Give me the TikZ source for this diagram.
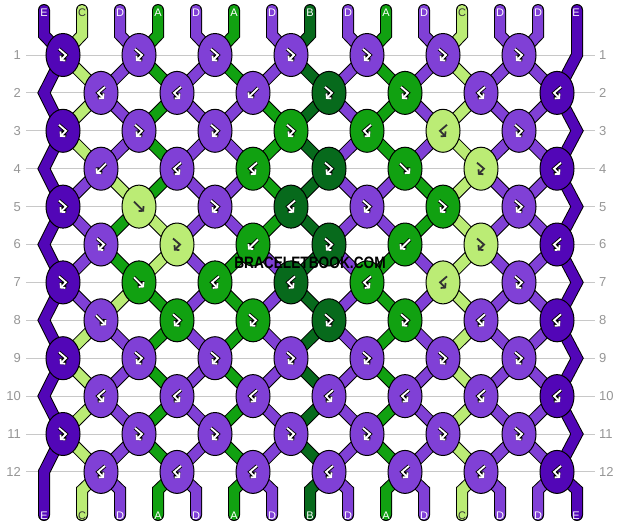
\documentclass[tikz,border=0pt]{standalone}
\usepackage{fontspec}
\usepackage{pdfrender}
\setmainfont{Liberation Sans}
\usetikzlibrary{arrows.meta,shapes.geometric,backgrounds}

\definecolor{strE}{RGB}{82,6,183}
\definecolor{strD}{RGB}{128,64,214}
\definecolor{strC}{RGB}{187,236,117}
\definecolor{strA}{RGB}{17,161,17}
\definecolor{strB}{RGB}{7,106,28}
\definecolor{rimE}{RGB}{0,0,0}
\definecolor{rimD}{RGB}{0,0,0}
\definecolor{rimC}{RGB}{187,236,117}
\definecolor{rimA}{RGB}{0,0,0}
\definecolor{rimB}{RGB}{0,0,0}
\colorlet{inkE}{white}
\colorlet{inkD}{white}
\colorlet{inkC}{black!80}
\colorlet{inkA}{white}
\colorlet{inkB}{white}
\definecolor{rowline}{RGB}{200,200,200}
\definecolor{rowtext}{RGB}{150,150,150}

\tikzset{
  knot/.style={ellipse, draw=black, line width=1pt, fill=#1,
    minimum width=34pt, minimum height=43pt, inner sep=0pt},
  thread/.style={draw=black, line width=1pt, double=#1, double distance=10pt},
  stub/.style={thread=#1, line cap=round},
  rim/.style={line width=3.6pt, line join=miter, -{Straight Barb[length=3pt,width=7pt]}},
  ink/.style={line width=1.8pt, line join=miter, -{Straight Barb[length=3pt,width=7pt]}},
  glyph f/.style={insert path={(-5,-5) -- (5,5)}},
  glyph b/.style={insert path={(5,-5) -- (-5,5)}},
  glyph fb/.style={insert path={(-4,-6) -- (3,0) -- (-3,6)}},
  glyph bf/.style={insert path={(4,-6) -- (-3,0) -- (3,6)}},
  rownum/.style={text=rowtext, font=\fontsize{13}{13}\selectfont, inner sep=0pt},
  letter/.style={font=\fontsize{11}{11}\selectfont, inner sep=0pt}
}

\begin{document}
\begin{tikzpicture}[x=1pt,y=-1pt]
\useasboundingbox (0,0) rectangle (620,528);
\begin{pgfonlayer}{background}
  \fill[white] (0,0) rectangle (620,528);
\end{pgfonlayer}

% knots, row by row
\foreach \r/\row in {
  1/{E/fb,D/fb,D/fb,D/fb,D/fb,D/fb,D/fb},
  2/{D/bf,D/bf,D/b,B/fb,A/fb,D/bf,E/bf},
  3/{E/fb,D/fb,D/fb,A/fb,A/bf,C/bf,D/fb},
  4/{D/b,D/bf,A/bf,B/fb,A/f,C/fb,E/bf},
  5/{E/fb,C/f,D/fb,B/bf,D/fb,A/fb,D/fb},
  6/{D/fb,C/fb,A/b,B/fb,A/b,C/fb,E/bf},
  7/{E/fb,A/f,A/bf,B/bf,A/bf,C/bf,D/fb},
  8/{D/f,A/fb,A/fb,B/fb,A/fb,D/bf,E/bf},
  9/{E/fb,D/fb,D/fb,D/fb,D/fb,D/fb,D/fb},
  10/{D/bf,D/bf,D/bf,D/bf,D/bf,D/bf,E/bf},
  11/{E/fb,D/fb,D/fb,D/fb,D/fb,D/fb,D/fb},
  12/{D/bf,D/bf,D/bf,D/bf,D/bf,D/bf,E/bf}} {
  \pgfmathsetmacro\y{55+37.9*(\r-1)}
  \node[rownum, anchor=east] (num-l-\r) at (21,\y) {\r};
  \node[rownum, anchor=west] (num-r-\r) at (599,\y) {\r};
  \begin{pgfonlayer}{background}
    \draw[rowline, line width=1pt] (26,\y) -- (595,\y);
  \end{pgfonlayer}
  \foreach \c/\t [count=\i from 0] in \row {
    \pgfmathsetmacro\x{mod(\r,2)==1 ? 63+76*\i : 101+76*\i}
    \node[knot=str\c] (k-\r-\i) at (\x,\y) {};
    \draw[draw=rim\c, rim, shift={(k-\r-\i.center)}, glyph \t];
    \draw[draw=ink\c, ink, shift={(k-\r-\i.center)}, glyph \t];
  }
  \ifodd\r
    \coordinate (lft-\r) at (k-\r-0.center);
    \coordinate (rgt-\r) at (577,\y);
  \else
    \coordinate (lft-\r) at (44,\y);
    \coordinate (rgt-\r) at (k-\r-6.center);
  \fi
}

\begin{pgfonlayer}{background}
% threads between rows (positions 1..13)
\foreach \r/\cols in {
  1/{C,D,A,D,A,D,B,D,A,D,C,D,D},
  2/{C,D,A,D,D,A,B,D,A,D,C,D,D},
  3/{C,D,A,D,D,A,B,D,A,D,C,D,D},
  4/{D,C,A,D,D,A,B,D,D,A,C,D,D},
  5/{D,A,C,D,D,A,B,D,D,A,C,D,D},
  6/{D,A,C,D,A,D,B,D,A,D,C,D,D},
  7/{D,C,A,D,A,D,B,D,A,D,C,D,D},
  8/{C,D,A,D,A,D,B,D,A,D,C,D,D},
  9/{C,D,A,D,A,D,B,D,A,D,C,D,D},
  10/{C,D,A,D,A,D,B,D,A,D,C,D,D},
  11/{C,D,A,D,A,D,B,D,A,D,C,D,D}} {
  \pgfmathtruncatemacro\rn{\r+1}
  \foreach \c [count=\p] in \cols {
    \pgfmathtruncatemacro\ia{mod(\r,2)==1 ? floor(\p/2) : floor((\p-1)/2)}
    \pgfmathtruncatemacro\ib{mod(\r,2)==1 ? floor((\p-1)/2) : floor(\p/2)}
    \draw[thread=str\c] (k-\r-\ia.center) -- (k-\rn-\ib.center);
  }
}

% loose ends at top and bottom
\foreach \c [count=\p] in {C,D,A,D,A,D,B,D,A,D,C,D,D} {
  \pgfmathtruncatemacro\it{floor(\p/2)}
  \pgfmathtruncatemacro\ib{floor((\p-1)/2)}
  \draw[stub=str\c] (44+38*\p,10) -- (44+38*\p,35) -- (k-1-\it.center);
  \draw[stub=str\c] (k-12-\ib.center) -- (44+38*\p,490) -- (44+38*\p,515);
}

% edge threads
\draw[stub=strE] (44,10) -- (44,35) \foreach \r in {1,...,12} { -- (lft-\r) } -- (44,515);
\draw[stub=strE] (577,10) \foreach \r in {1,...,12} { -- (rgt-\r) } -- (577,490) -- (577,515);
\end{pgfonlayer}

% thread letters
\foreach \c [count=\p from 0] in {E,C,D,A,D,A,D,B,D,A,D,C,D,D,E} {
  \node[letter, text=ink\c] (top-\p) at (44+38*\p,13) {\c};
  \node[letter, text=ink\c] (bot-\p) at (44+38*\p,516) {\c};
}

% watermark
\node[font=\bfseries\fontsize{16.5}{16.5}\selectfont, xscale=0.83, transform shape]
  (mark) at (310,263) {\textpdfrender{TextRenderingMode=FillStroke, LineWidth=0.7,
    StrokeColor=white!85!black, FillColor=black!80}{BRACELETBOOK.COM}};
\end{tikzpicture}
\end{document}
